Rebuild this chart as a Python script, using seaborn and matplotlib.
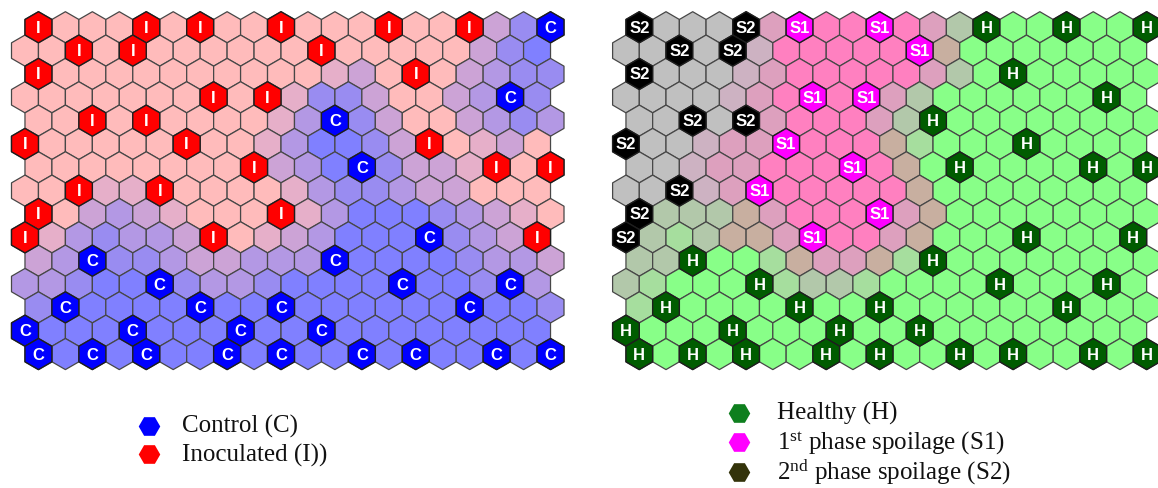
import numpy as np
import matplotlib
matplotlib.use("Agg")
import matplotlib.pyplot as plt
from matplotlib.collections import PolyCollection
import seaborn as sns

# ---------------------------------------------------------------- data ----
N_ROWS, N_COLS = 15, 20

# Left map: similarity of every map unit to the control samples
# (0 = inoculated-like ... 5 = control-like)
control_similarity = [
    "00000000000000000245",
    "00000000000000000245",
    "00000000000120002344",
    "00000000001442002354",
    "00000000013542002343",
    "00000000013554200120",
    "00000000023554221000",
    "00011000001344322000",
    "00232100001355543210",
    "01343320012355554320",
    "23544322333555554332",
    "33455543345555555453",
    "45555555555555555554",
    "55555555555555555555",
    "55555555555555555555",
]

# best-matching units of the samples (row, column)
inoculated_units = [
    (0, 0), (0, 4), (0, 6), (0, 9), (0, 13), (0, 16),
    (1, 2), (1, 4), (1, 11),
    (2, 0), (2, 14),
    (3, 7), (3, 9),
    (4, 2), (4, 4),
    (5, 0), (5, 6), (5, 15),
    (6, 8), (6, 17), (6, 19),
    (7, 2), (7, 5),
    (8, 0), (8, 9),
    (9, 0), (9, 7), (9, 19),
]
control_units = [
    (0, 19), (3, 18), (4, 11), (6, 12), (9, 15),
    (10, 2), (10, 11),
    (11, 5), (11, 14), (11, 18),
    (12, 1), (12, 6), (12, 9), (12, 16),
    (13, 0), (13, 4), (13, 8), (13, 11),
    (14, 0), (14, 2), (14, 4), (14, 7), (14, 9), (14, 12), (14, 14),
    (14, 17), (14, 19),
]

# Right map: dominant state of every map unit
# g = 2nd phase, p = 1st phase, G = healthy, a/b/c/d/e = transitional units
state_map = [
    "gggggbpppppbdGGGGGGG",
    "gggggappppppcGGGGGGG",
    "ggggabpppppbdGGGGGGG",
    "ggggabppppbdGGGGGGGG",
    "gggggbpppbdGGGGGGGGG",
    "gggabbppppceGGGGGGGG",
    "ggabbpppppcGGGGGGGGG",
    "gggabppppppcGGGGGGGG",
    "gdddcbppppbcGGGGGGGG",
    "gdedccbpppbcGGGGGGGG",
    "ddGGGecbbceGGGGGGGGG",
    "deGGGGeddeGGGGGGGGGG",
    "eGGGGGGGGGGGGGGGGGGG",
    "GGGGGGGGGGGGGGGGGGGG",
    "GGGGGGGGGGGGGGGGGGGG",
]

s2_units = [(0, 0), (0, 4), (1, 2), (1, 4), (2, 0), (4, 2), (4, 4),
            (5, 0), (7, 2), (8, 0), (9, 0)]
s1_units = [(0, 6), (0, 9), (1, 11), (3, 7), (3, 9), (5, 6), (6, 8),
            (7, 5), (8, 9), (9, 7)]
healthy_units = [
    (0, 13), (0, 16), (0, 19), (2, 14), (3, 18), (4, 11), (5, 15),
    (6, 12), (6, 17), (6, 19), (9, 15), (9, 19),
    (10, 2), (10, 11),
    (11, 5), (11, 14), (11, 18),
    (12, 1), (12, 6), (12, 9), (12, 16),
    (13, 0), (13, 4), (13, 8), (13, 11),
    (14, 0), (14, 2), (14, 4), (14, 7), (14, 9), (14, 12), (14, 14),
    (14, 17), (14, 19),
]

left_legend = ["Control (C)", "Inoculated (I))"]
right_legend = ["Healthy (H)",
                r"1$^{\mathrm{st}}$ phase spoilage (S1)",
                r"2$^{\mathrm{nd}}$ phase spoilage (S2)"]

# --------------------------------------------------------------- style ----
sns.set_theme(style="white")
plt.rcParams["font.family"] = ["Liberation Sans", "DejaVu Sans"]
plt.rcParams["mathtext.fontset"] = "custom"
plt.rcParams["mathtext.rm"] = "Liberation Serif"
plt.rcParams["mathtext.it"] = "Liberation Serif:italic"
plt.rcParams["mathtext.bf"] = "Liberation Serif:bold"

similarity_palette = sns.blend_palette(["#FFBBBB", "#8080FF"], n_colors=6)
state_palette = {
    "g": "#C0C0C0", "a": "#CDB2C2", "b": "#DDA0BE", "p": "#FF80C0",
    "c": "#C8AFA0", "d": "#B2C8AA", "e": "#A6DE9E", "G": "#88FF88",
}
EDGE = "#474747"
MARK_EDGE = "#1E1E1E"

W, H = 1158, 489
fig = plt.figure(figsize=(W / 100, H / 100), dpi=100, facecolor="white")

R = 1 / np.sqrt(3)
ANG = np.deg2rad(np.arange(30, 390, 60))
HEX = np.column_stack([R * np.cos(ANG), R * np.sin(ANG)])


def unit_center(row, col):
    x = col + (0.5 if row % 2 == 0 else 0.0)
    y = row * np.sqrt(3) / 2
    return x, y


def hexes(units):
    return [HEX + np.array(unit_center(r, c)) for r, c in units]


def draw_map(ax, cell_colors, labelled, label_colors):
    all_units = [(r, c) for r in range(N_ROWS) for c in range(N_COLS)]
    face = [cell_colors[r][c] for r, c in all_units]
    ax.add_collection(PolyCollection(hexes(all_units), facecolors=face,
                                     edgecolors=EDGE, linewidths=0.9,
                                     clip_on=False))
    for tag, units in labelled.items():
        ax.add_collection(PolyCollection(hexes(units),
                                         facecolors=label_colors[tag],
                                         edgecolors=MARK_EDGE,
                                         linewidths=1.0, clip_on=False,
                                         zorder=3))
        for r, c in units:
            x, y = unit_center(r, c)
            ax.text(x, y, tag, ha="center", va="center", color="white",
                    fontsize=12, fontweight="bold", zorder=4,
                    family=["Liberation Sans", "DejaVu Sans"])
    ax.set_xlim(-0.5, N_COLS)
    ax.set_ylim((N_ROWS - 1) * np.sqrt(3) / 2 + R, -R)
    ax.set_axis_off()


# pixel extents of the two maps
top, bottom = 12.7, 370.6
ax_l = fig.add_axes([11.5 / W, 1 - bottom / H, 552.5 / W, (bottom - top) / H])
ax_r = fig.add_axes([612.6 / W, 1 - bottom / H, 547.4 / W, (bottom - top) / H])

left_colors = [[similarity_palette[int(v)] for v in row]
               for row in control_similarity]
draw_map(ax_l, left_colors,
         {"I": inoculated_units, "C": control_units},
         {"I": "#FF0000", "C": "#0000FF"})

right_colors = [[state_palette[v] for v in row] for row in state_map]
draw_map(ax_r, right_colors,
         {"S2": s2_units, "S1": s1_units, "H": healthy_units},
         {"S2": "#000000", "S1": "#FF00FF", "H": "#005C00"})

# ------------------------------------------------------------- legends ----
ax_leg = fig.add_axes([0, 0, 1, 1], zorder=-1)
ax_leg.set_xlim(0, W)
ax_leg.set_ylim(H, 0)
ax_leg.set_axis_off()
ax_leg.patch.set_visible(False)


def draw_legend(labels, colors, key_x, text_x, first_y, step):
    for i, (lab, col) in enumerate(zip(labels, colors)):
        y = first_y + i * step
        ax_leg.plot([key_x], [y], marker="H", ms=15.5, color=col,
                    mew=0, ls="none")
        ax_leg.text(text_x, y, lab, ha="left", va="center", fontsize=18,
                    family=["Liberation Serif", "DejaVu Serif"],
                    color="#111111")


draw_legend(left_legend, ["#0000FF", "#FF0000"], 149.3, 182, 426.7, 28.3)
draw_legend(right_legend, ["#0E7F1E", "#FF00FF", "#33330A"],
            739, 777, 413.5, 29.5)

fig.savefig("out.png", dpi=100, facecolor="white")
